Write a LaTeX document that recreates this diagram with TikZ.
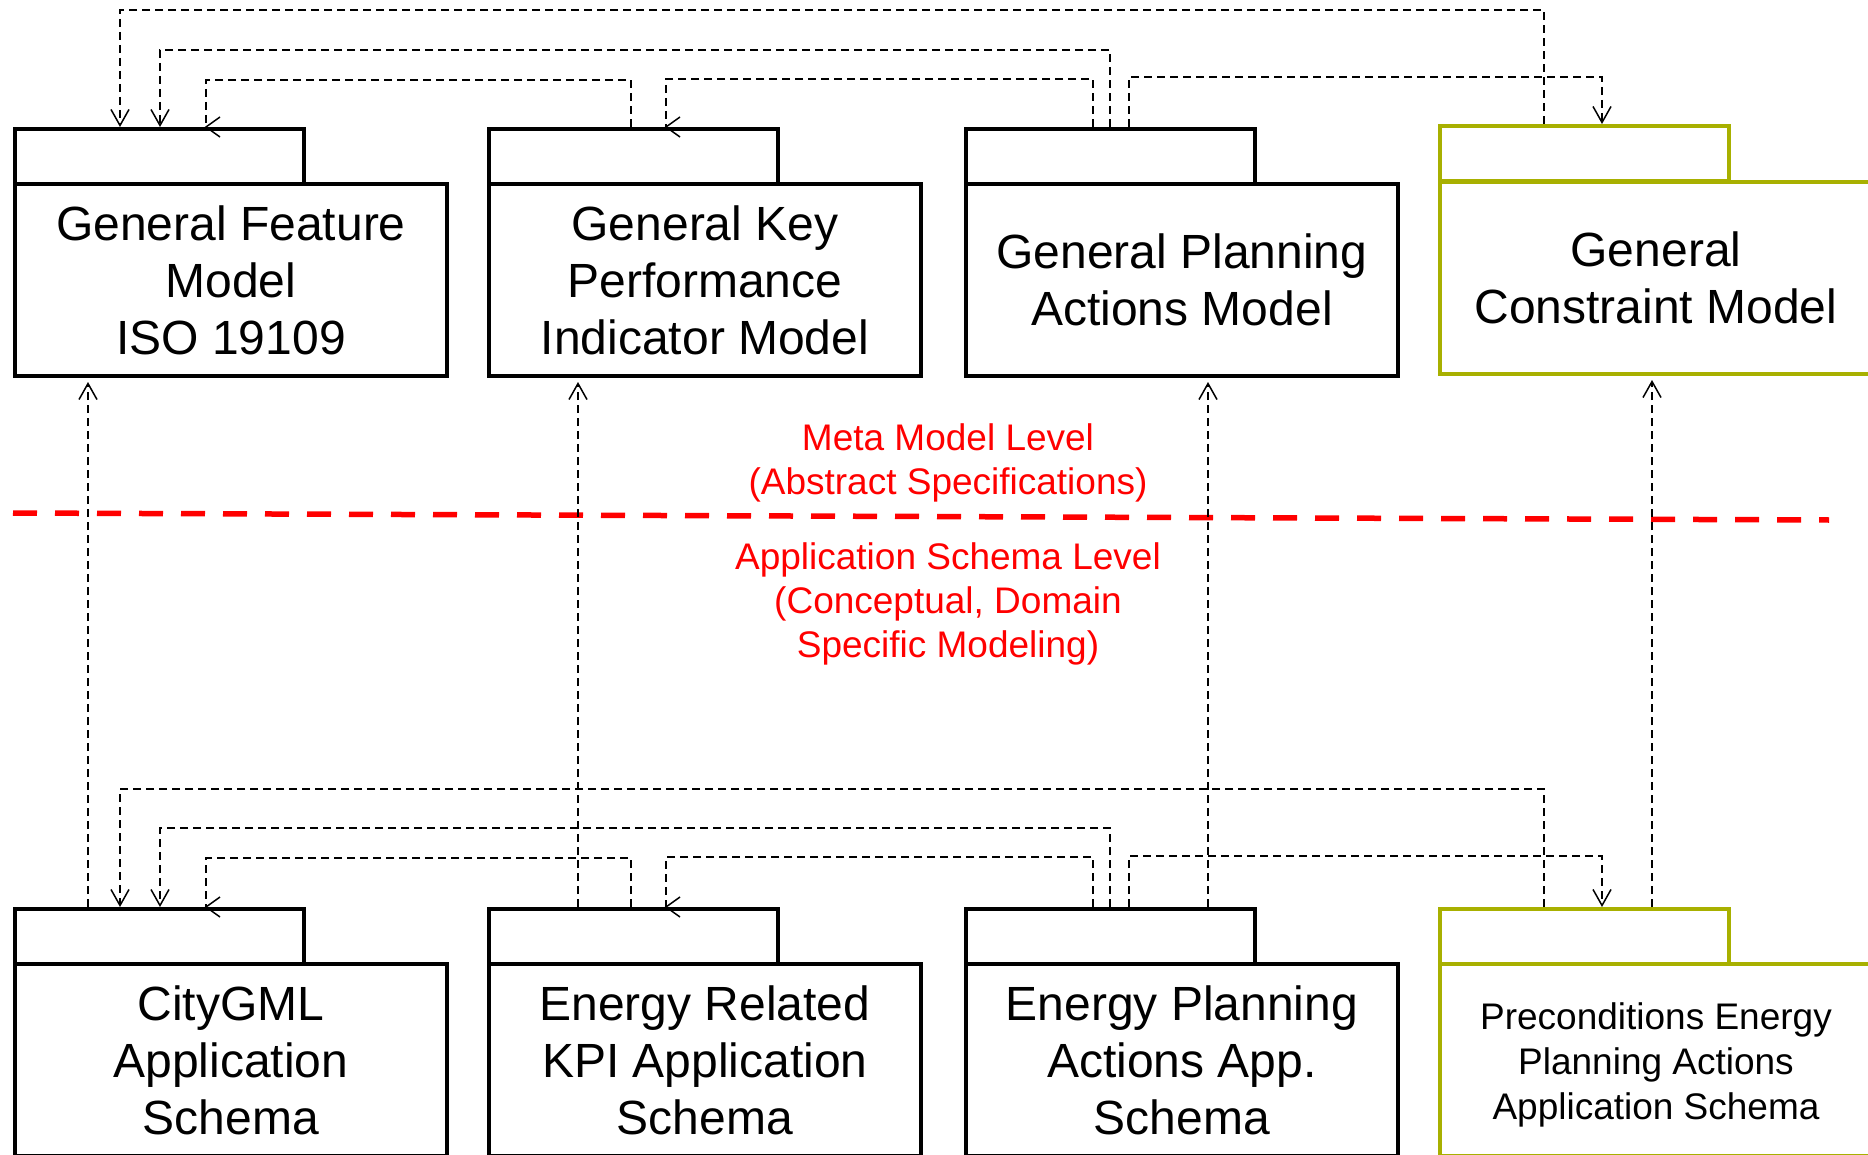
\documentclass[tikz,border=0pt]{standalone}
\usepackage{fontspec}
\setmainfont{Liberation Sans}
\usetikzlibrary{arrows.meta,calc}

\definecolor{pkgolive}{RGB}{168,176,0}

\tikzset{
  pkgtab/.style={draw, line width=2pt, minimum width=144.5pt, minimum height=27.5pt,
    inner sep=0pt, anchor=north west},
  pkgbody/.style={draw, line width=2pt, minimum width=216pt, minimum height=96pt,
    inner sep=0pt, anchor=north west, align=center,
    font=\fontsize{24}{28.5}\selectfont},
  smalltext/.style={align=center, inner sep=0pt, font=\fontsize{18.5}{22.3}\selectfont},
  conn/.style={draw=black, line width=0.75pt, dash pattern=on 4pt off 2.5pt},
  vtip/.style={-{Straight Barb[length=8pt,width=9pt]}},
  tipline/.style={draw=black, line width=0.75pt, solid},
  lvl/.style={text=red, align=center, font=\fontsize{18.5}{22.2}\selectfont, inner sep=0pt}
}

% open arrow head pointing left, tip at the given coordinate
\newcommand{\lefttip}[1]{\draw[tipline] ($(#1)+(14,-10)$) -- (#1) -- ($(#1)+(14,10)$);}

\begin{document}
\begin{tikzpicture}[x=0.5pt,y=-0.5pt]
\useasboundingbox (0,0) rectangle (1868,1155);
\begin{scope}
\clip (0,0) rectangle (1868,1155);

% ---------- meta model level packages ----------
\node[pkgtab]  (gfmtab)  at (13,127) {};
\node[pkgbody] (gfm)     at (13,182) {General Feature\\Model\\ISO 19109};

\node[pkgtab]  (gkpitab) at (487,127) {};
\node[pkgbody] (gkpi)    at (487,182) {General Key\\Performance\\Indicator Model};

\node[pkgtab]  (gpatab)  at (964,127) {};
\node[pkgbody] (gpa)     at (964,182) {General Planning\\Actions Model};

\node[pkgtab, draw=pkgolive]  (gcmtab) at (1438,124) {};
\node[pkgbody, draw=pkgolive] (gcm)    at (1438,180) {General\\Constraint Model};

% ---------- application schema level packages ----------
\node[pkgtab]  (citytab) at (13,907) {};
\node[pkgbody] (city)    at (13,962) {CityGML\\Application\\Schema};

\node[pkgtab]  (kpitab)  at (487,907) {};
\node[pkgbody] (kpi)     at (487,962) {Energy Related\\KPI Application\\Schema};

\node[pkgtab]  (epatab)  at (964,907) {};
\node[pkgbody] (epa)     at (964,962) {Energy Planning\\Actions App.\\Schema};

\node[pkgtab, draw=pkgolive]  (pretab) at (1438,907) {};
\node[pkgbody, draw=pkgolive] (pre) at (1438,962) {};
\node[smalltext] (pretext) at ($(pre.center)+(0,5)$)
  {Preconditions Energy\\Planning Actions\\Application Schema};

% ---------- level separator ----------
\draw[red, line width=2.75pt, dash pattern=on 12pt off 9pt] (13,513) -- (1829,520);
\node[lvl] (meta) at (948,463) {Meta Model Level\\(Abstract Specifications)};
\node[lvl] (app)  at (948,604) {Application Schema Level\\(Conceptual, Domain\\Specific Modeling)};

% ---------- dependencies among the meta models ----------
\draw[conn, vtip] (gcmtab.north -| 1544,0) |- (120,10) -- (gfmtab.north -| 120,0);
\draw[conn, vtip] (gpatab.north -| 1110,0) |- (160,50) -- (gfmtab.north -| 160,0);
\coordinate (tipC) at (gfmtab.north -| 206,0);
\draw[conn] (gkpitab.north -| 631,0) |- (206,80) -- (tipC);
\lefttip{tipC}
\coordinate (tipD) at (gkpitab.north -| 666,0);
\draw[conn] (gpatab.north -| 1093,0) |- (666,79) -- (tipD);
\lefttip{tipD}
\draw[conn, vtip] (gpatab.north -| 1129,0) |- (1602,77) -- (gcmtab.north -| 1602,0);

% ---------- dependencies among the application schemas ----------
\draw[conn, vtip] (pretab.north -| 1544,0) |- (120,789) -- (citytab.north -| 120,0);
\draw[conn, vtip] (epatab.north -| 1110,0) |- (160,828) -- (citytab.north -| 160,0);
\coordinate (tipC2) at (citytab.north -| 206,0);
\draw[conn] (kpitab.north -| 631,0) |- (206,858) -- (tipC2);
\lefttip{tipC2}
\coordinate (tipD2) at (kpitab.north -| 666,0);
\draw[conn] (epatab.north -| 1093,0) |- (666,857) -- (tipD2);
\lefttip{tipD2}
\draw[conn, vtip] (epatab.north -| 1129,0) |- (1602,856) -- (pretab.north -| 1602,0);

% ---------- schemas realise the meta models ----------
\draw[conn, vtip, shorten >=2pt] (citytab.north -| 88,0)   -- (gfm.south -| 88,0);
\draw[conn, vtip, shorten >=2pt] (kpitab.north -| 578,0)   -- (gkpi.south -| 578,0);
\draw[conn, vtip, shorten >=2pt] (epatab.north -| 1208,0)  -- (gpa.south -| 1208,0);
\draw[conn, vtip, shorten >=2pt] (pretab.north -| 1652,0)  -- (gcm.south -| 1652,0);

\end{scope}
\end{tikzpicture}
\end{document}
